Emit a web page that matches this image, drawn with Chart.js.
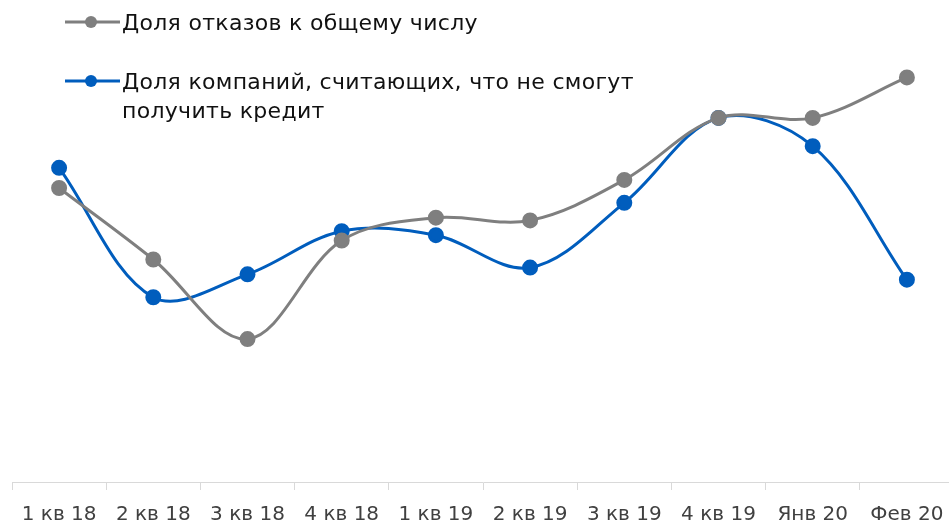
<!DOCTYPE html>
<html><head><meta charset="utf-8">
<script src="https://cdn.jsdelivr.net/npm/chart.js@4"></script>
<style>html,body{margin:0;padding:0;background:#fff;overflow:hidden;width:949px;height:524px}
#wrap{position:absolute;left:0;top:0;width:970px;height:539px}
#c{display:block;width:970px;height:539px}</style>
</head><body>
<div id="wrap"><canvas id="c" width="970" height="539"></canvas></div>
<script>
const categories = ["1 кв 18","2 кв 18","3 кв 18","4 кв 18","1 кв 19","2 кв 19","3 кв 19","4 кв 19","Янв 20","Фев 20"];
const refusalShare = [21.8,16.5,10.6,17.9,19.6,19.4,22.4,27.0,27.0,30.0];
const cannotGetCredit = [23.3,13.7,15.4,18.6,18.3,15.9,20.7,27.0,24.9,15.0];
const seriesNames = ["Доля отказов к общему числу", ["Доля компаний, считающих, что не смогут","получить кредит"]];
const GRAY = "#7f7f7f", BLUE = "#005dbd";
const FONT = "'DejaVu Sans', sans-serif";

const legendPlugin = {
  id: 'customLegend',
  afterDraw(chart) {
    const ctx = chart.ctx;
    ctx.save();
    const items = [
      {color: GRAY, y: 22, lines: [seriesNames[0]]},
      {color: BLUE, y: 81, lines: seriesNames[1]}
    ];
    items.forEach(it => {
      ctx.strokeStyle = it.color; ctx.lineWidth = 3;
      ctx.beginPath(); ctx.moveTo(65, it.y); ctx.lineTo(120, it.y); ctx.stroke();
      ctx.fillStyle = it.color;
      ctx.beginPath(); ctx.arc(91, it.y, 6, 0, Math.PI*2); ctx.fill();
      ctx.fillStyle = "#111111";
      ctx.font = "22px " + FONT;
      try { ctx.letterSpacing = "0.3px"; } catch(e) {}
      ctx.textBaseline = "alphabetic";
      it.lines.forEach((t, i) => ctx.fillText(t, 122, it.y + 8 + i*29));
    });
    ctx.restore();
  }
};

new Chart(document.getElementById('c'), {
  type: 'line',
  data: {
    labels: categories,
    datasets: [
      {label: "Доля отказов к общему числу", data: refusalShare, borderColor: GRAY, backgroundColor: GRAY,
       borderWidth: 3, pointRadius: 6.5, pointHoverRadius: 6.5, tension: 0.35, clip: false},
      {label: "Доля компаний, считающих, что не смогут получить кредит", data: cannotGetCredit, borderColor: BLUE, backgroundColor: BLUE,
       borderWidth: 3, pointRadius: 6.5, pointHoverRadius: 6.5, tension: 0.35, clip: false}
    ]
  },
  options: {
    responsive: false, animation: false,
    layout: {padding: {left: 12, right: 16, top: 10, bottom: 0}},
    plugins: {legend: {display: false}, tooltip: {enabled: false}},
    scales: {
      x: {
        offset: true,
        grid: {offset: true, drawOnChartArea: false, drawTicks: true, tickLength: 8, color: "#d9d9d9", lineWidth: 1},
        border: {display: true, color: "#d9d9d9", width: 1},
        ticks: {color: "#404040", font: {family: FONT, size: 20}, padding: 12.5, maxRotation: 0, autoSkip: false}
      },
      y: {display: false, min: 0, max: 35}
    }
  },
  plugins: [legendPlugin]
});
</script>
</body></html>
